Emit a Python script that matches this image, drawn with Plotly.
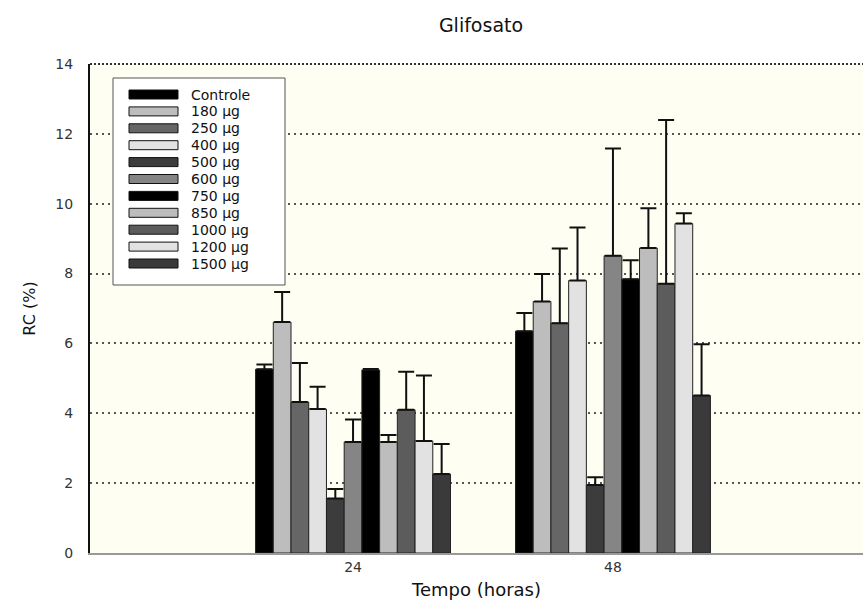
import plotly.graph_objects as go

categories = ["24", "48"]
series_names = ["Controle", "180 µg", "250 µg", "400 µg", "500 µg", "600 µg",
                "750 µg", "850 µg", "1000 µg", "1200 µg", "1500 µg"]
values_24 = [5.26, 6.61, 4.32, 4.12, 1.56, 3.18, 5.24, 3.18, 4.10, 3.21, 2.26]
values_48 = [6.35, 7.20, 6.58, 7.80, 1.95, 8.51, 7.84, 8.73, 7.71, 9.43, 4.51]
err_top_24 = [5.40, 7.47, 5.44, 4.76, 1.83, 3.82, 5.27, 3.38, 5.19, 5.08, 3.12]
err_top_48 = [6.87, 7.99, 8.72, 9.32, 2.17, 11.58, 8.38, 9.87, 12.40, 9.73, 5.98]
colors = ["#000000", "#bdbdbd", "#666666", "#e2e2e2", "#3c3c3c", "#858585",
          "#000000", "#bdbdbd", "#5c5c5c", "#e2e2e2", "#3a3a3a"]

FONT = "DejaVu Sans, Liberation Sans, Arial, sans-serif"

fig = go.Figure()
for i, name in enumerate(series_names):
    vals = [values_24[i], values_48[i]]
    errs = [err_top_24[i] - values_24[i], err_top_48[i] - values_48[i]]
    fig.add_trace(go.Bar(
        x=categories, y=vals, name=name, showlegend=False,
        marker=dict(color=colors[i], line=dict(color="#222222", width=1)),
        error_y=dict(type="data", array=errs, arrayminus=[0, 0], symmetric=False,
                     color="#111111", thickness=2, width=8),
    ))

# plot-area geometry (pixels) for the hand-built legend
PL, PR, PT, PB = 90, 863, 64, 553
PW, PH = PR - PL, PB - PT


def px_x(x):
    return (x - PL) / PW


def px_y(y):
    return (PB - y) / PH


shapes = []
annotations = []
# legend box
shapes.append(dict(type="rect", xref="paper", yref="paper",
                   x0=px_x(113), x1=px_x(285), y0=px_y(285), y1=px_y(78),
                   fillcolor="white", line=dict(color="#555555", width=1), layer="above"))
for i, name in enumerate(series_names):
    yc = 94.5 + 16.9 * i
    shapes.append(dict(type="rect", xref="paper", yref="paper",
                       x0=px_x(129), x1=px_x(178), y0=px_y(yc + 4.5), y1=px_y(yc - 4.5),
                       fillcolor=colors[i], line=dict(color="#111111", width=1), layer="above"))
    annotations.append(dict(xref="paper", yref="paper", x=px_x(189), y=px_y(yc),
                            xanchor="left", yanchor="middle", showarrow=False,
                            text=name, height=16,
                            font=dict(family=FONT, size=14, color="#111111")))
# dotted top border
shapes.append(dict(type="line", xref="paper", yref="paper", x0=0, x1=1, y0=1, y1=1,
                   line=dict(color="#333333", width=2, dash="2px,2px"), layer="above"))

fig.update_layout(
    width=863, height=604,
    margin=dict(l=PL, r=863 - PR, t=PT, b=604 - PB),
    paper_bgcolor="white",
    plot_bgcolor="#fffef2",
    barmode="group", bargap=0.25, bargroupgap=0,
    font=dict(family=FONT, size=14, color="#333333"),
    title=dict(text="Glifosato", x=481 / 863, xanchor="center",
               y=1 - 25 / 604, yanchor="middle",
               font=dict(family=FONT, size=19, color="#111111")),
    showlegend=False,
    shapes=shapes,
    annotations=annotations,
)
fig.update_xaxes(
    type="category", range=[-1.012, 1.962],
    showline=True, linecolor="#999999", linewidth=2, mirror=False,
    showgrid=False, ticks="", tickfont=dict(family=FONT, size=14, color="#333333"),
    title=dict(text="Tempo (horas)", font=dict(family=FONT, size=18, color="#111111"), standoff=10),
)
fig.update_yaxes(
    range=[0, 14], dtick=2, tick0=0,
    showline=True, linecolor="#111111", linewidth=2,
    showgrid=True, gridcolor="#555555", griddash="2px,4px", gridwidth=1.5,
    zeroline=False, ticks="", ticklabelstandoff=12,
    tickfont=dict(family=FONT, size=14, color="#333333"),
    title=dict(text="RC (%)", font=dict(family=FONT, size=16, color="#111111"), standoff=16),
)

fig.write_html("out.html")
